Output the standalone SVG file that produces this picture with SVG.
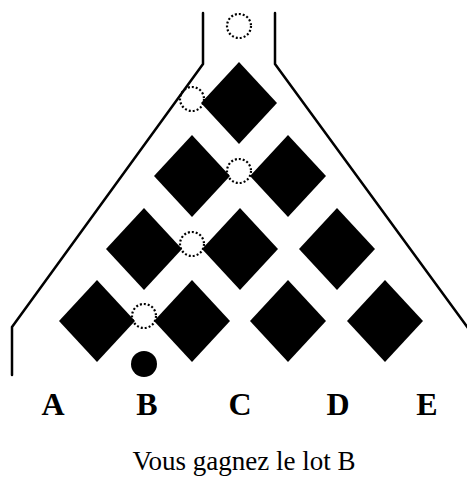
<svg xmlns="http://www.w3.org/2000/svg" width="467" height="487" viewBox="0 0 467 487">
<defs>
<style>
.wall{fill:none;stroke:#000;stroke-width:2.5;stroke-linejoin:round;stroke-linecap:round}
.pin{fill:#000}
.trace{fill:none;stroke:#000;stroke-width:2.2;stroke-dasharray:2 2}
.lab{font-family:"Liberation Serif","Times New Roman",serif;font-weight:bold;font-size:32px;text-anchor:middle;fill:#000}
.cap{font-family:"Liberation Serif","Times New Roman",serif;font-size:27px;text-anchor:middle;fill:#000}
</style>
<polygon id="dia" points="0,-41 38,0 0,41 -38,0"/>
</defs>
<rect width="467" height="487" fill="#fff"/>
<g id="walls">
<polyline class="wall" points="203,13 203,64 12,327 12,375"/>
<polyline class="wall" points="275,13 275,64 468,328"/>
</g>
<g id="pins" class="pin">
<use href="#dia" x="239" y="103"/>
<use href="#dia" x="192" y="176"/>
<use href="#dia" x="288" y="176"/>
<use href="#dia" x="144" y="249"/>
<use href="#dia" x="240" y="249"/>
<use href="#dia" x="337" y="249"/>
<use href="#dia" x="97" y="321"/>
<use href="#dia" x="192" y="321"/>
<use href="#dia" x="288" y="321"/>
<use href="#dia" x="385" y="321"/>
</g>
<g id="path-trace">
<circle class="trace" cx="239" cy="26" r="12"/>
<circle class="trace" cx="192" cy="99" r="12"/>
<circle class="trace" cx="239" cy="171" r="12"/>
<circle class="trace" cx="192" cy="244" r="12"/>
<circle class="trace" cx="144" cy="316" r="12"/>
</g>
<g id="ball"><circle cx="144" cy="364" r="13" fill="#000"/></g>
<g id="labels">
<text class="lab" x="53" y="415">A</text>
<text class="lab" x="147" y="415">B</text>
<text class="lab" x="240" y="415">C</text>
<text class="lab" x="338" y="415">D</text>
<text class="lab" x="427" y="415">E</text>
</g>
<g id="caption"><text class="cap" x="244" y="470">Vous gagnez le lot B</text></g>
</svg>
